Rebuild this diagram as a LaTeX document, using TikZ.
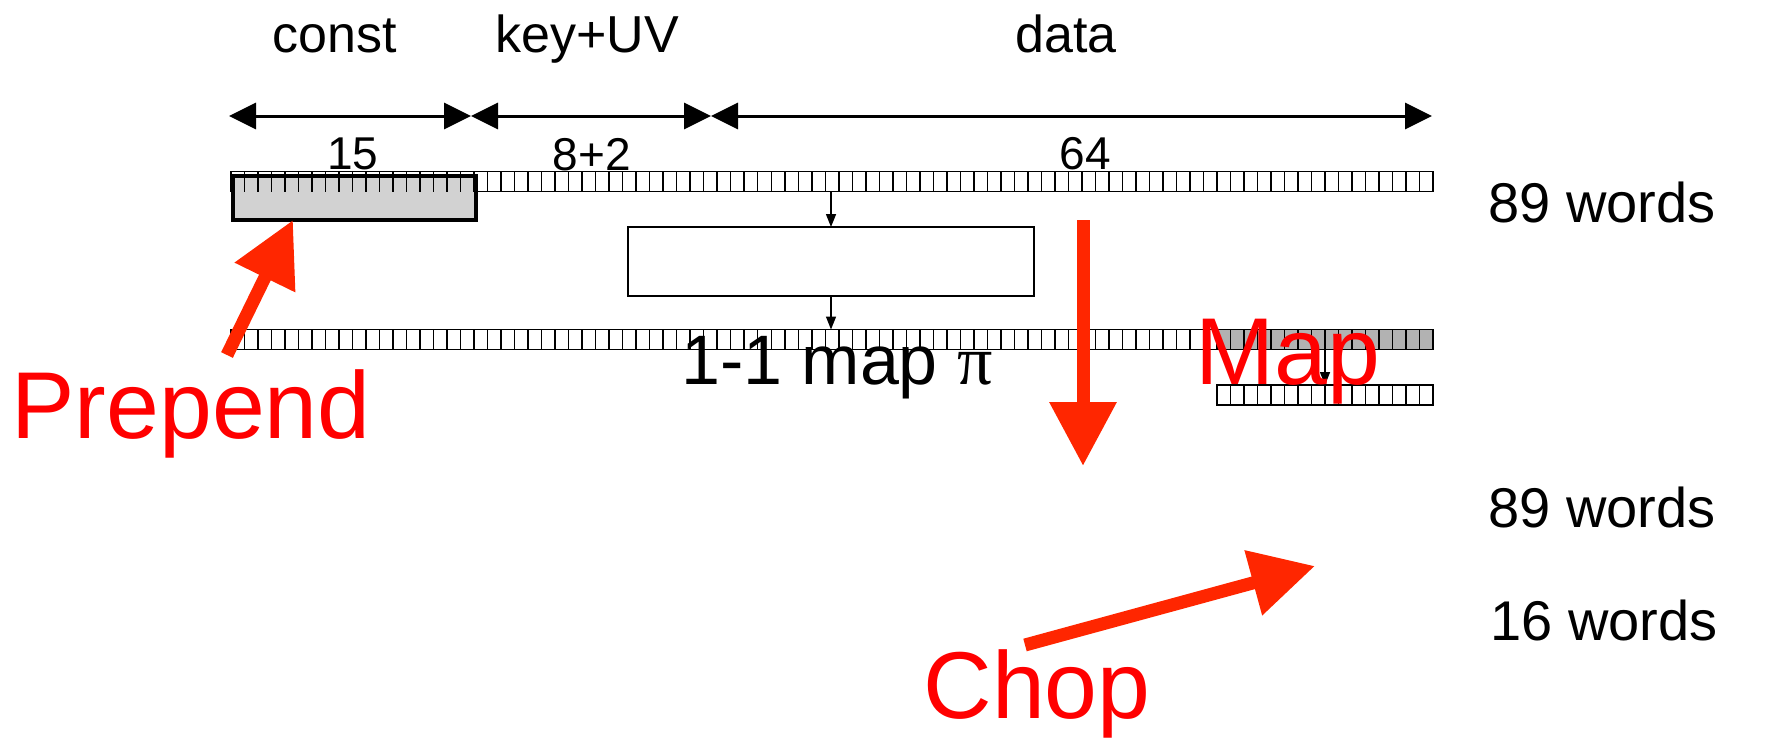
\documentclass[tikz,border=0pt]{standalone}
\usepackage{fontspec}
\setmainfont{Liberation Sans}
\newfontfamily\pifont{Liberation Serif}
\usetikzlibrary{arrows.meta, positioning}

\definecolor{arrowred}{RGB}{255,38,0}
\definecolor{textred}{RGB}{255,0,0}

\begin{document}
\begin{tikzpicture}[
    x=1pt, y=-1pt,
    cell row/.style={rectangle, draw, line width=1.5pt, fill=white, minimum height=20pt, inner sep=0pt, outer sep=0pt},
    cell line/.style={line width=1.5pt},
    const box/.style={rectangle, draw, line width=4pt, fill=gray!35, inner sep=0pt, outer sep=0pt},
    map box/.style={rectangle, draw, line width=1.2pt, fill=white, inner sep=0pt, outer sep=0pt},
    dim arrow/.style={{Triangle[length=27pt,width=26pt]}-{Triangle[length=27pt,width=26pt]}, line width=3pt},
    thin arrow/.style={-{Triangle[length=13pt,width=10pt]}, line width=1.5pt},
    big arrow/.style={-{Triangle[length=64pt,width=64pt]}, line width=13pt, draw=arrowred},
    head text/.style={anchor=base, inner sep=0pt, font=\fontsize{52}{60}\selectfont},
    count text/.style={anchor=base, inner sep=0pt, font=\fontsize{46}{54}\selectfont},
    side text/.style={anchor=base, inner sep=0pt, font=\fontsize{56}{64}\selectfont},
    red text/.style={anchor=base, inner sep=0pt, text=textred, font=\fontsize{95}{110}\selectfont}
]
\useasboundingbox (0,0) rectangle (1769,739);

% field widths
\coordinate (d0) at (229,116);
\coordinate (d1) at (471,116);
\coordinate (d2) at (711,116);
\coordinate (d3) at (1432,116);
\draw[dim arrow] (d0) -- (d1);
\draw[dim arrow] (d1) -- (d2);
\draw[dim arrow] (d2) -- (d3);

\node[head text] (const) at (335,52) {const};
\node[head text] (keyuv) at (587,52) {key+UV};
\node[head text] (data) at (1066,52) {data};

\node[count text] (n15) at (353,169) {15};
\node[count text] (n10) at (592,170) {8+2};
\node[count text] (n64) at (1085,169) {64};

% the word rows
\node[cell row, minimum width=1202pt] (inrow) at (832,181.5) {};
\node[const box, minimum width=243pt, minimum height=44pt] (constbox) at (354.5,198) {};
\foreach \i in {1,...,88}
  \draw[cell line] ([xshift=\i*13.506pt]inrow.north west) -- ([xshift=\i*13.506pt]inrow.south west);

\node[cell row, minimum width=1202pt] (maprow) at (832,339.5) {};
\node[cell row, fill=gray!60, minimum width=216pt, anchor=east] (grayblock) at (maprow.east) {};
\foreach \i in {1,...,88}
  \draw[cell line] ([xshift=\i*13.506pt]maprow.north west) -- ([xshift=\i*13.506pt]maprow.south west);

\node[cell row, minimum width=216pt] (outrow) at (1325,395) {};
\foreach \i in {1,...,15}
  \draw[cell line] ([xshift=\i*13.5pt]outrow.north west) -- ([xshift=\i*13.5pt]outrow.south west);

\node[map box, minimum width=406pt, minimum height=69pt] (mapbox) at (831,261.5) {};
\draw[thin arrow] (inrow.south -| mapbox.north) -- (mapbox.north);
\draw[thin arrow] (mapbox.south) -- (maprow.north -| mapbox.south);
\draw[thin arrow] (grayblock.south) -- (outrow.north);

\node[anchor=base, inner sep=0pt, font=\fontsize{70}{80}\selectfont] (pi) at (837,384) {1-1 map {\pifont π}};

\node[side text] (w89a) at (1602,222) {89 words};
\node[side text] (w89b) at (1602,527) {89 words};
\node[side text] (w16) at (1604,640) {16 words};

% red steps
\coordinate (prepend tail) at (227,355);
\draw[big arrow] (prepend tail) -- ([xshift=60pt]constbox.south west);
\coordinate (map top) at (1083,220);
\coordinate (map tip) at (1083,466);
\draw[big arrow] (map top) -- (map tip);
\coordinate (chop tail) at (1025,645);
\coordinate (chop tip) at (1315,566);
\draw[big arrow] (chop tail) -- (chop tip);

\node[red text] (prepend) at (191,438) {Prepend};
\node[red text] (map) at (1288,384) {Map};
\node[red text] (chop) at (1037,718) {Chop};

\end{tikzpicture}
\end{document}
